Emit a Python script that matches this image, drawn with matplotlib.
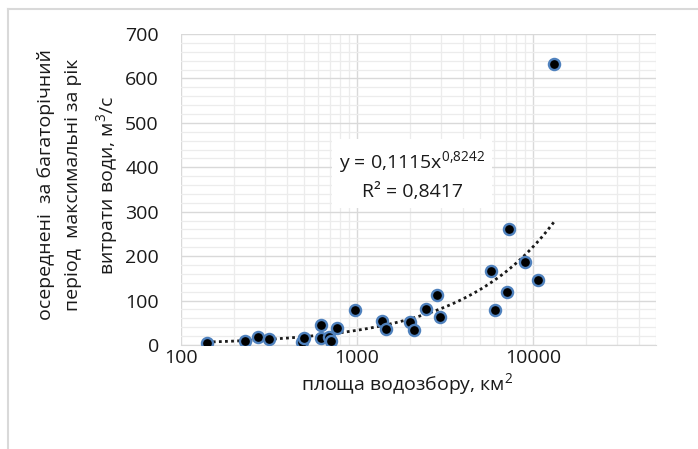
import numpy as np
import matplotlib.pyplot as plt
from matplotlib.ticker import FixedLocator, MultipleLocator, NullFormatter
from matplotlib.lines import Line2D

plt.rcParams['font.family'] = ['Open Sans', 'DejaVu Sans']
plt.rcParams['mathtext.fontset'] = 'custom'
plt.rcParams['mathtext.rm'] = 'Open Sans'

W, H = 698, 449

# площа водозбору, км2
area = [140, 231, 275, 315, 484, 501, 628, 628, 692, 710, 767, 979,
        1393, 1462, 2010, 2105, 2462, 2856, 2956, 5754, 6095, 7096,
        7345, 9057, 10720, 13190]
# осереднені максимальні витрати води, м3/с
flow = [5, 9, 17, 13, 6, 15, 45, 16, 19, 10, 39, 78,
        55, 36, 52, 34, 80, 112, 62, 167, 78, 120,
        260, 186, 147, 632]

coef_a = 0.1115
coef_b = 0.8242

fig = plt.figure(figsize=(W / 100, H / 100), dpi=100)
ax = fig.add_axes([181 / W, 1 - 345 / H, (656 - 181) / W, (345 - 34) / H])

ax.set_xscale('log')
ax.set_xlim(100, 50000)
ax.set_ylim(0, 700)

ax.yaxis.set_major_locator(MultipleLocator(100))
ax.yaxis.set_minor_locator(MultipleLocator(20))
ax.xaxis.set_major_locator(FixedLocator([100, 1000, 10000]))
minors = [m * d for d in (100, 1000, 10000) for m in range(2, 10) if m * d <= 50000]
ax.xaxis.set_minor_locator(FixedLocator(minors))
ax.xaxis.set_minor_formatter(NullFormatter())
ax.set_xticklabels(['100', '1000', '10000'])

ax.grid(which='major', color='#d9d9d9', lw=1.0)
ax.grid(which='minor', color='#ececec', lw=0.9)
ax.set_axisbelow(True)
for s in ['top', 'right', 'left']:
    ax.spines[s].set_visible(False)
ax.spines['bottom'].set_color('#d9d9d9')
ax.tick_params(which='both', length=0, labelsize=14, colors='#1a1a1a')
ax.tick_params(axis='x', pad=3)
ax.tick_params(axis='y', pad=16)

# trend line from displayed equation
xs = np.logspace(np.log10(min(area)), np.log10(max(area)), 200)
ax.plot(xs, coef_a * xs ** coef_b, color='#1a1a1a', lw=2.0, ls=(0, (1, 1.2)), zorder=2)

ax.scatter(area, flow, s=64, color='black', edgecolors='#4f81bd', linewidths=1.7, zorder=3)

fig.text(412 / W, 1 - 175 / H, 'y = 0,1115x$^{0{,}8242}$\nR² = 0,8417',
         ha='center', va='center', fontsize=14, linespacing=1.5, color='#1a1a1a',
         bbox=dict(facecolor='white', edgecolor='none', pad=5))

fig.text(407 / W, 1 - 385 / H, 'площа водозбору, км$^2$', ha='center', va='center',
         fontsize=14, color='#1a1a1a')
fig.text(79 / W, 1 - 185 / H,
         'осереднені  за багаторічний\nперіод  максимальні за рік\nвитрати води, м$^3$/с',
         ha='center', va='center', rotation=90, multialignment='center',
         fontsize=14, color='#1a1a1a', linespacing=1.62)

# chart area border (top and left only visible)
fig.add_artist(Line2D([8 / W, 1], [1 - 9 / H, 1 - 9 / H], color='#d9d9d9', lw=1.5))
fig.add_artist(Line2D([8 / W, 8 / W], [0, 1 - 9 / H], color='#d9d9d9', lw=1.5))

fig.savefig('out.png', dpi=100)
